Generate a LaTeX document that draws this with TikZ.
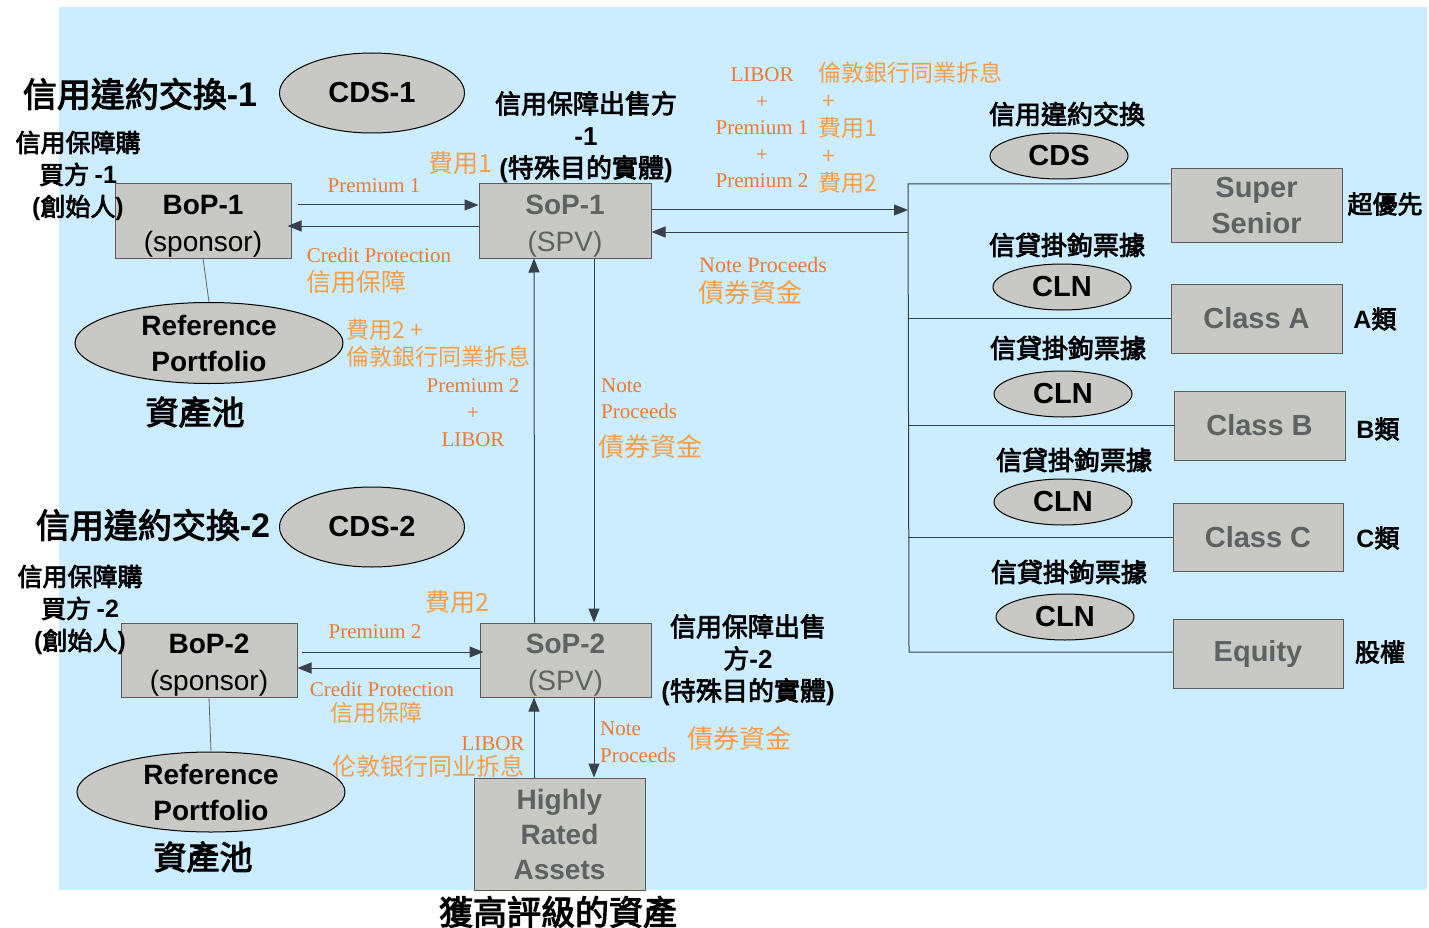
\documentclass[tikz,border=0pt]{standalone}
\usepackage{fontspec}
\setmainfont{Liberation Sans}
\newfontfamily\cjk{Noto Sans CJK TC}
\newfontfamily\cjkm{Noto Sans CJK TC}[FakeBold=3]
\newfontfamily\tnr{Liberation Serif}
\usetikzlibrary{arrows.meta,shapes.geometric}
\definecolor{bgc}{RGB}{204,236,255}
\definecolor{boxfill}{RGB}{200,201,197}
\definecolor{boxline}{RGB}{90,90,90}
\definecolor{boxtext}{RGB}{95,98,98}
\definecolor{orgA}{RGB}{236,122,50}
\definecolor{orgB}{RGB}{245,158,68}
\definecolor{linec}{RGB}{55,65,75}
\newcommand\fsz[2]{\fontsize{#1pt}{#2pt}\selectfont}
\newcommand\lsb[1]{{\fontspec{Liberation Sans}\bfseries #1}}
\newcommand\topstrut{\rule{0pt}{29.5pt}}
\tikzset{
  box/.style={draw=boxline,fill=boxfill,line width=1pt,inner sep=0pt,align=center},
  oval/.style={ellipse,draw=black,fill=boxfill,line width=1pt,inner sep=0pt,align=center},
  lbl/.style={inner sep=0pt,align=center},
  conn/.style={draw=linec,line width=1pt},
  arr/.style={conn,-{Triangle[length=14pt,width=11pt]}},
  thinl/.style={draw=gray!80!black,line width=0.8pt},
  ser/.style={lbl,text=orgA,font=\tnr\fsz{21}{26.5}},
  zor/.style={lbl,text=orgB,font=\cjk\fsz{25}{28}},
  blk/.style={lbl,text=black,font=\cjkm\fsz{26}{32}}
}
\begin{document}
\begin{tikzpicture}[x=1pt,y=-1pt]
\useasboundingbox (0,0) rectangle (1429,928);
\fill[bgc] (59,7) rectangle (1427,890);

% ---------- CDS-1 block ----------
\node[lbl,font=\cjkm\fsz{34}{38}] (t1) at (140,94) {信用違約交換\lsb{-1}};
\node[oval,minimum width=185pt,minimum height=80pt,font=\bfseries\fsz{29}{34}] (cds1) at (372,93) {CDS-1};
\node[box,minimum width=176pt,minimum height=74pt,font=\fsz{28}{37}] (bop1) at (203,221) {\topstrut\textbf{BoP-1}\\(sponsor)};
\node[blk,font=\cjkm\fsz{25}{32}] (buy1) at (78,176) {信用保障購\\買方 \lsb{-1}\\\lsb{(}創始人\lsb{)}};
\node[box,minimum width=172pt,minimum height=74pt,text=boxtext,font=\fsz{28}{37}] (sop1) at (565,221) {\topstrut\textbf{SoP-1}\\(SPV)};
\node[blk] (sell1) at (586,137) {信用保障出售方\\\lsb{-1}\\\lsb{(}特殊目的實體\lsb{)}};
\node[zor] (fee1) at (460,163) {費用1};
\node[ser] (prem1) at (374,186) {Premium 1};
\node[ser] (cp1) at (379,255) {Credit Protection};
\node[zor] (cpz1) at (356,282) {信用保障};
\node[oval,minimum width=268pt,minimum height=81pt,font=\bfseries\fsz{28}{36}] (rp1) at (209,343) {Reference\\Portfolio};
\node[blk,font=\cjkm\fsz{33}{36}] (pool1) at (195,412) {資產池};

\draw[arr] ([xshift=6pt,yshift=16pt]bop1.east) -- ([yshift=16pt]sop1.west);
\draw[arr] ([yshift=-5pt]sop1.west) -- ([xshift=-4pt,yshift=-5pt]bop1.east);
\draw[thinl] (bop1.south) -- (rp1.north);

% ---------- labels top middle ----------
\node[ser] (libstack) at (762,128) {LIBOR\\+\\Premium 1\\+\\Premium 2};
\node[lbl,anchor=west,align=left,text=orgB,font=\cjk\fsz{23}{27.5}] (zhstack) at (818,128) {倫敦銀行同業拆息\\ \,+\\費用1\\ \,+\\費用2};
\node[ser,font=\tnr\fsz{22}{26}] (np1) at (763,265) {Note Proceeds};
\node[zor,font=\cjk\fsz{26}{28}] (npz1) at (750,293) {債券資金};

% ---------- right bus ----------
\coordinate (bustop) at (908,184);
\coordinate (busbot) at (909,652);
\node[box,minimum width=171pt,minimum height=73pt,text=boxtext,font=\bfseries\fsz{29}{36}] (ss) at (1256.5,205.5) {Super\\Senior};
\node[box,minimum width=171pt,minimum height=69pt,text=boxtext,font=\bfseries\fsz{29}{36}] (ca) at (1256.5,318.5) {Class A};
\node[box,minimum width=171pt,minimum height=69pt,text=boxtext,font=\bfseries\fsz{29}{36}] (cb) at (1259.5,425.5) {Class B};
\node[box,minimum width=170pt,minimum height=68pt,text=boxtext,font=\bfseries\fsz{29}{36}] (cc) at (1258,537) {Class C};
\node[box,minimum width=170pt,minimum height=69pt,text=boxtext,font=\bfseries\fsz{29}{36}] (eq) at (1258,653.5) {Equity};

\draw[conn] (ss.west |- bustop) -- (bustop) -- (busbot) -- (eq.west |- busbot);
\draw[conn] (bustop |- ca.west) -- (ca.west);
\draw[conn] (bustop |- cb.west) -- (cb.west);
\draw[conn] (bustop |- cc.west) -- (cc.west);

\coordinate (sopR1) at ([yshift=11pt]sop1.east);
\coordinate (sopR2) at ([yshift=-11pt]sop1.east);
\draw[arr] (sopR1) -- (sopR1 -| bustop);
\draw[arr] (sopR2 -| bustop) -- (sopR2);

\node[blk] (cdsl) at (1067,114) {信用違約交換};
\node[oval,minimum width=138pt,minimum height=46pt,font=\bfseries\fsz{29}{34}] (cds) at (1059,156) {CDS};
\node[blk] (clnl1) at (1067,245) {信貸掛鉤票據};
\node[oval,minimum width=138pt,minimum height=46pt,font=\bfseries\fsz{29}{34}] (cln1) at (1062,287) {CLN};
\node[blk] (clnl2) at (1068,348) {信貸掛鉤票據};
\node[oval,minimum width=138pt,minimum height=46pt,font=\bfseries\fsz{29}{34}] (cln2) at (1063,394) {CLN};
\node[blk] (clnl3) at (1074,460) {信貸掛鉤票據};
\node[oval,minimum width=138pt,minimum height=46pt,font=\bfseries\fsz{29}{34}] (cln3) at (1063,502) {CLN};
\node[blk] (clnl4) at (1069,572) {信貸掛鉤票據};
\node[oval,minimum width=138pt,minimum height=46pt,font=\bfseries\fsz{29}{34}] (cln4) at (1065,617) {CLN};

\node[blk,font=\cjkm\fsz{25}{30}] (sl0) at (1385,204) {超優先};
\node[blk,font=\cjkm\fsz{25}{30}] (sl1) at (1375,319) {\lsb{A}類};
\node[blk,font=\cjkm\fsz{25}{30}] (sl2) at (1378,429) {\lsb{B}類};
\node[blk,font=\cjkm\fsz{25}{30}] (sl3) at (1378,538) {\lsb{C}類};
\node[blk,font=\cjkm\fsz{25}{30}] (sl4) at (1380,652) {股權};

% ---------- middle labels ----------
\node[lbl,anchor=west,align=left,text=orgB,font=\cjk\fsz{23}{27}] (f2lib) at (346,343) {費用2 +\\倫敦銀行同業拆息};
\node[ser,font=\tnr\fsz{21}{27}] (p2l) at (473,413) {Premium 2\\+\\LIBOR};
\node[ser,anchor=west,align=left,font=\tnr\fsz{21}{26}] (np2) at (601,399) {Note\\Proceeds};
\node[zor,font=\cjk\fsz{26}{28}] (npz2) at (650,447) {債券資金};

% ---------- CDS-2 block ----------
\node[lbl,font=\cjkm\fsz{34}{38}] (t2) at (153,525) {信用違約交換\lsb{-2}};
\node[oval,minimum width=185pt,minimum height=80pt,font=\bfseries\fsz{29}{34}] (cds2) at (372,527) {CDS-2};
\node[box,minimum width=176pt,minimum height=74pt,font=\fsz{28}{37}] (bop2) at (209,660) {\topstrut\textbf{BoP-2}\\(sponsor)};
\node[blk,font=\cjkm\fsz{25}{32}] (buy2) at (80,610) {信用保障購\\買方 \lsb{-2}\\\lsb{(}創始人\lsb{)}};
\node[box,minimum width=171pt,minimum height=74pt,text=boxtext,font=\fsz{28}{37}] (sop2) at (565.5,660) {\topstrut\textbf{SoP-2}\\(SPV)};
\node[blk] (sell2) at (748,660) {信用保障出售\\方\lsb{-2}\\\lsb{(}特殊目的實體\lsb{)}};
\node[zor] (fee2) at (457,602) {費用2};
\node[ser] (prem2) at (375,632) {Premium 2};
\node[ser] (cp2) at (382,689) {Credit Protection};
\node[zor,font=\cjk\fsz{23}{28}] (cpz2) at (376,713) {信用保障};
\node[oval,minimum width=268pt,minimum height=80pt,font=\bfseries\fsz{28}{36}] (rp2) at (211,792) {Reference\\Portfolio};
\node[blk,font=\cjkm\fsz{33}{36}] (pool2) at (203,857) {資產池};
\node[box,minimum width=171pt,minimum height=112pt,text=boxtext,font=\bfseries\fsz{28}{35}] (hra) at (559.5,834) {Highly\\Rated\\Assets};
\node[blk,font=\cjkm\fsz{34}{38}] (hraz) at (558,912) {獲高評級的資產};
\node[ser] (lib3) at (493,744) {LIBOR};
\node[zor,font=\cjk\fsz{24}{28}] (libz3) at (428,766) {伦敦银行同业拆息};
\node[ser,anchor=west,align=left,font=\tnr\fsz{21}{27}] (np3) at (600,742) {Note\\Proceeds};
\node[zor,font=\cjk\fsz{26}{28}] (npz3) at (739,739) {債券資金};

\draw[arr] ([xshift=4pt,yshift=8pt]bop2.east) -- ([xshift=4pt,yshift=8pt]sop2.west);
\draw[arr] ([yshift=-8pt]sop2.west) -- ([yshift=-8pt]bop2.east);
\draw[thinl] (bop2.south) -- (rp2.north);

% ---------- vertical flows ----------
\draw[arr] ([xshift=-31pt]sop2.north) -- ([xshift=-31pt]sop1.south);
\draw[arr] ([xshift=29pt]sop1.south) -- ([xshift=28.5pt]sop2.north);
\draw[arr] ([xshift=-25.5pt]hra.north) -- ([xshift=-31.5pt]sop2.south);
\draw[arr] ([xshift=28.5pt]sop2.south) -- ([xshift=34.5pt]hra.north);
\end{tikzpicture}
\end{document}
